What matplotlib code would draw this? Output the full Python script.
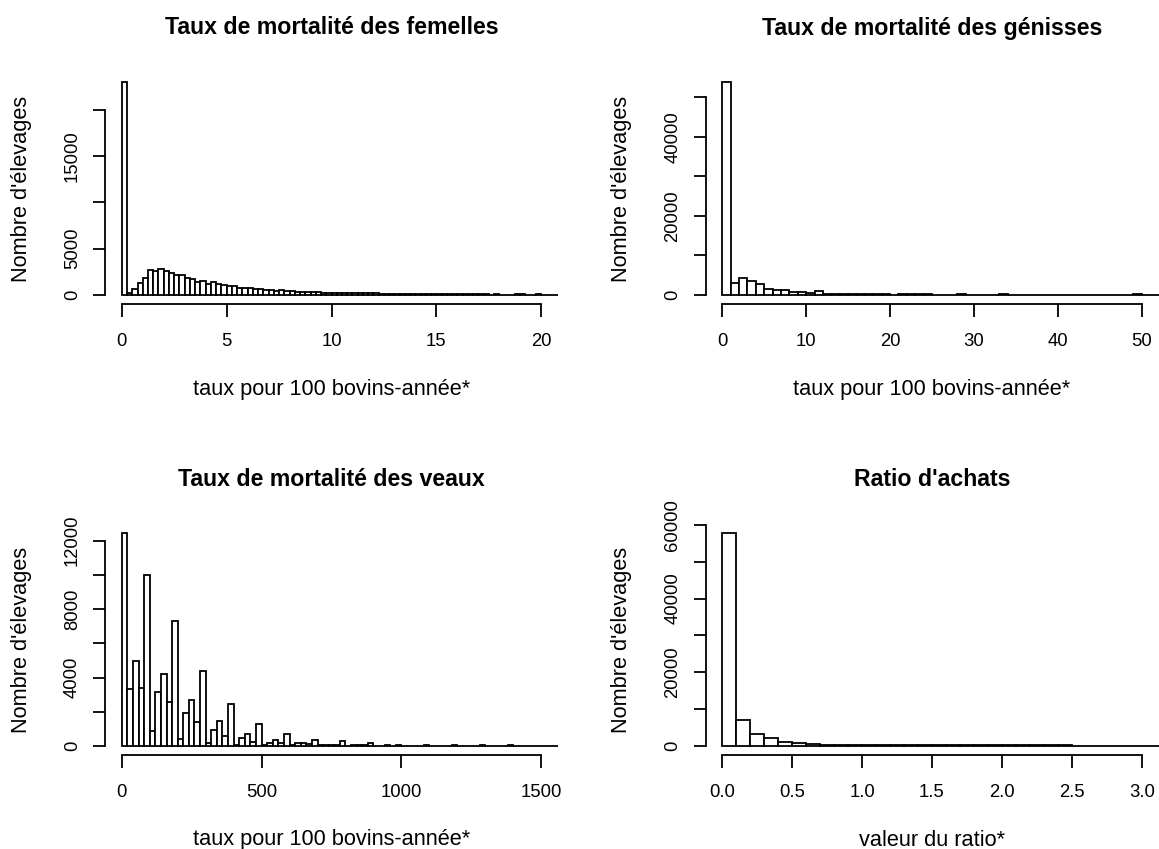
import numpy as np
import matplotlib
matplotlib.use("Agg")
import matplotlib.pyplot as plt

plt.rcParams['font.family'] = ['Liberation Sans', 'DejaVu Sans']

# comptes (un compte par classe)
fem_width = 0.25
fem_counts = [23000, 180, 650, 1250, 1850, 2750, 2600, 2800, 2550, 2350,
              2150, 2150, 1850, 1700, 1400, 1550, 1200, 1450, 1150, 1050,
              950, 1000, 800, 750, 780, 650, 700, 560, 540, 480,
              520, 380, 380, 360, 330, 270, 360, 340, 260, 240,
              230, 220, 210, 200, 190, 180, 175, 170, 165, 160,
              155, 150, 150, 145, 140, 135, 130, 125, 120, 120,
              115, 110, 110, 105, 100, 100, 60, 60, 55, 55,
              50, 110, 0, 0, 0, 100, 100, 0, 0, 100,
              0, 0, 0, 0]

gen_width = 1
gen_counts = [53800, 3100, 4300, 3500, 2700, 1600, 1150, 1150, 800, 800,
              400, 1000, 350, 320, 300, 280, 260, 240, 220, 200,
              20, 250, 250, 250, 250, 10, 10, 10, 250, 10,
              10, 10, 10, 250, 5, 5, 5, 5, 5, 5,
              5, 5, 5, 5, 5, 5, 5, 5, 5, 250,
              0, 0]

veau_width = 20
veau_counts = [12450, 3320, 4970, 3380, 10010, 870, 3140, 4190, 2590, 7280,
               390, 1910, 2710, 1390, 4390, 160, 940, 1460, 590, 2440,
               60, 450, 680, 250, 1290, 80, 200, 350, 160, 720,
               60, 150, 200, 100, 350, 60, 50, 60, 70, 270,
               10, 50, 40, 60, 170, 0, 0, 50, 0, 50,
               0, 0, 0, 0, 40, 0, 0, 0, 0, 40,
               0, 0, 0, 0, 40, 0, 0, 0, 0, 40,
               0, 0, 0, 0, 0, 0, 0, 0, 0]

ratio_width = 0.1
ratio_counts = [57800, 7000, 3350, 2100, 1200, 800, 450, 400, 380, 350,
                320, 300, 290, 280, 270, 260, 250, 240, 230, 220,
                210, 200, 190, 180, 170, 0, 0, 0, 0, 0,
                0, 0]

titles = ["Taux de mortalité des femelles", "Taux de mortalité des génisses",
          "Taux de mortalité des veaux", "Ratio d'achats"]
xlabels = ["taux pour 100 bovins-année*", "taux pour 100 bovins-année*",
           "taux pour 100 bovins-année*", "valeur du ratio*"]
ylabel = "Nombre d'élevages"

xlims = [20, 50, 1500, 3]
xticks = [[0, 5, 10, 15, 20], [0, 10, 20, 30, 40, 50], [0, 500, 1000, 1500],
          [0, 0.5, 1, 1.5, 2, 2.5, 3]]
xticklabels = [["0", "5", "10", "15", "20"], ["0", "10", "20", "30", "40", "50"],
               ["0", "500", "1000", "1500"],
               ["0.0", "0.5", "1.0", "1.5", "2.0", "2.5", "3.0"]]
yticks = [[0, 5000, 10000, 15000, 20000],
          [0, 10000, 20000, 30000, 40000, 50000],
          [0, 2000, 4000, 6000, 8000, 10000, 12000],
          [0, 10000, 20000, 30000, 40000, 50000, 60000]]
yticklabels = [["0", "5000", "", "15000", ""],
               ["0", "", "20000", "", "40000", ""],
               ["0", "", "4000", "", "8000", "", "12000"],
               ["0", "", "20000", "", "40000", "", "60000"]]

W, H = 1159, 849
fig = plt.figure(figsize=(W / 100, H / 100), dpi=100)

# régions de tracé en pixels (gauche, bas)
lefts = [105, 705.5, 105, 705.5]
bottoms = [303.5, 303.5, 754.5, 754.5]
pw, ph = 453, 230

data = [(fem_width, fem_counts), (gen_width, gen_counts),
        (veau_width, veau_counts), (ratio_width, ratio_counts)]

lw = 1.3
for i, (bw, counts) in enumerate(data):
    ax = fig.add_axes([lefts[i] / W, 1 - bottoms[i] / H, pw / W, ph / H])
    counts = np.array(counts, dtype=float)
    edges = bw * np.arange(len(counts))
    ax.bar(edges, counts, width=bw, align='edge', color='white',
           edgecolor='black', linewidth=lw)
    xm = xlims[i]
    ax.set_xlim(-0.04 * xm, 1.04 * xm)
    m = counts.max()
    ax.set_ylim(-0.04 * m, 1.04 * m)

    ax.set_xticks(xticks[i])
    ax.set_xticklabels(xticklabels[i])
    ax.set_yticks(yticks[i])
    ax.set_yticklabels(yticklabels[i], rotation=90, va='center')

    for s in ['top', 'right']:
        ax.spines[s].set_visible(False)
    ax.spines['left'].set_bounds(yticks[i][0], yticks[i][-1])
    ax.spines['bottom'].set_bounds(xticks[i][0], xticks[i][-1])
    ax.spines['left'].set_linewidth(lw)
    ax.spines['bottom'].set_linewidth(lw)

    ax.tick_params(axis='x', length=9, width=lw, pad=12.5, labelsize=13.3)
    ax.tick_params(axis='y', length=9, width=lw, pad=8.4, labelsize=13.3)

    ax.set_title(titles[i], fontsize=16.7, fontweight='bold',
                 y=1 + 45.5 / ph, va='center', pad=0)
    ax.set_xlabel(xlabels[i], fontsize=15.7)
    ax.xaxis.set_label_coords(0.5, -85.5 / ph)
    ax.xaxis.label.set_va('center')
    ax.set_ylabel(ylabel, fontsize=15.7)
    ax.yaxis.set_label_coords(-83.5 / pw, 0.5)
    ax.yaxis.label.set_va('center')

fig.savefig("out.png", dpi=100, facecolor='white')
